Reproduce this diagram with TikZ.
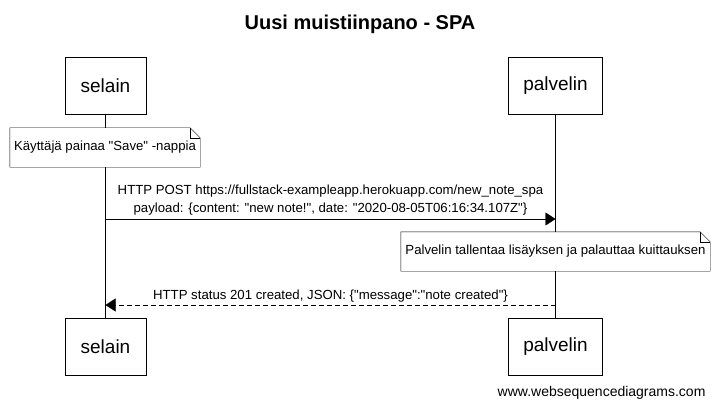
\documentclass[tikz,border=0pt]{standalone}
\usepackage{fontspec}
\setmainfont{Liberation Sans}[Ligatures=TeXOff]
\usetikzlibrary{calc,positioning,arrows.meta}

\begin{document}
\begin{tikzpicture}[x=1pt,y=-1pt]

\tikzset{actor/.style={draw,fill=white,minimum width=81pt,minimum height=57pt,inner sep=0pt,font=\fontsize{19}{21}\selectfont},
notebox/.style={fill=white,inner sep=0pt,font=\fontsize{13.2}{15}\selectfont},
msg/.style={font=\fontsize{13.2}{18}\selectfont,-{Triangle[length=10pt,width=13pt]}}}

\useasboundingbox (0,0) rectangle (720,409);

% Title
\node[font=\bfseries\fontsize{20}{22}\selectfont] (title) at (360,24) {Uusi muistiinpano - SPA};

% Participants
\node[actor] (s1) at (105.5,85.5) {selain};
\node[actor,minimum width=94pt] (p1) at (555.5,85.5) {palvelin};
\node[actor] (s2) at (105.5,346.5) {selain};
\node[actor,minimum width=94pt] (p2) at (555.5,346.5) {palvelin};

% Lifelines
\draw (s1) -- (s2); \draw (p1) -- (p2);

% Notes
\node[notebox,minimum width=190pt,minimum height=39pt] (n1) at (105,147.5) {Käyttäjä painaa "Save" -nappia};
\draw (n1.south west) -- (n1.north west) -- ($(n1.north east)+(-10,0)$) -- ($(n1.north east)+(0,10)$) -- (n1.south east) -- cycle;
\draw ($(n1.north east)+(-10,0)$) |- ($(n1.north east)+(0,10)$);

\node[notebox,minimum width=309pt,minimum height=39pt] (n2) at (555.5,251.5) {Palvelin tallentaa lisäyksen ja palauttaa kuittauksen};
\draw (n2.south west) -- (n2.north west) -- ($(n2.north east)+(-10,0)$) -- ($(n2.north east)+(0,10)$) -- (n2.south east) -- cycle;
\draw ($(n2.north east)+(-10,0)$) |- ($(n2.north east)+(0,10)$);

% Messages
\coordinate (m1s) at (105.5,219); \coordinate (m1e) at (555.5,219);
\draw[msg] (m1s) -- node[above,align=center,inner sep=4pt] {HTTP POST https://fullstack-exampleapp.herokuapp.com/new\_note\_spa\\payload: \{content: "new note!", date: "2020-08-05T06:16:34.107Z"\}} (m1e);

\coordinate (m2s) at (555.5,305); \coordinate (m2e) at (105.5,305);
\draw[msg,dash pattern=on 5pt off 3pt] (m2s) -- node[above,inner sep=3pt] {HTTP status 201 created, JSON: \{"message":"note created"\}} (m2e);

% Footer
\node[anchor=east,font=\fontsize{14}{16}\selectfont] (footer) at (709,393) {www.websequencediagrams.com};

\end{tikzpicture}
\end{document}
